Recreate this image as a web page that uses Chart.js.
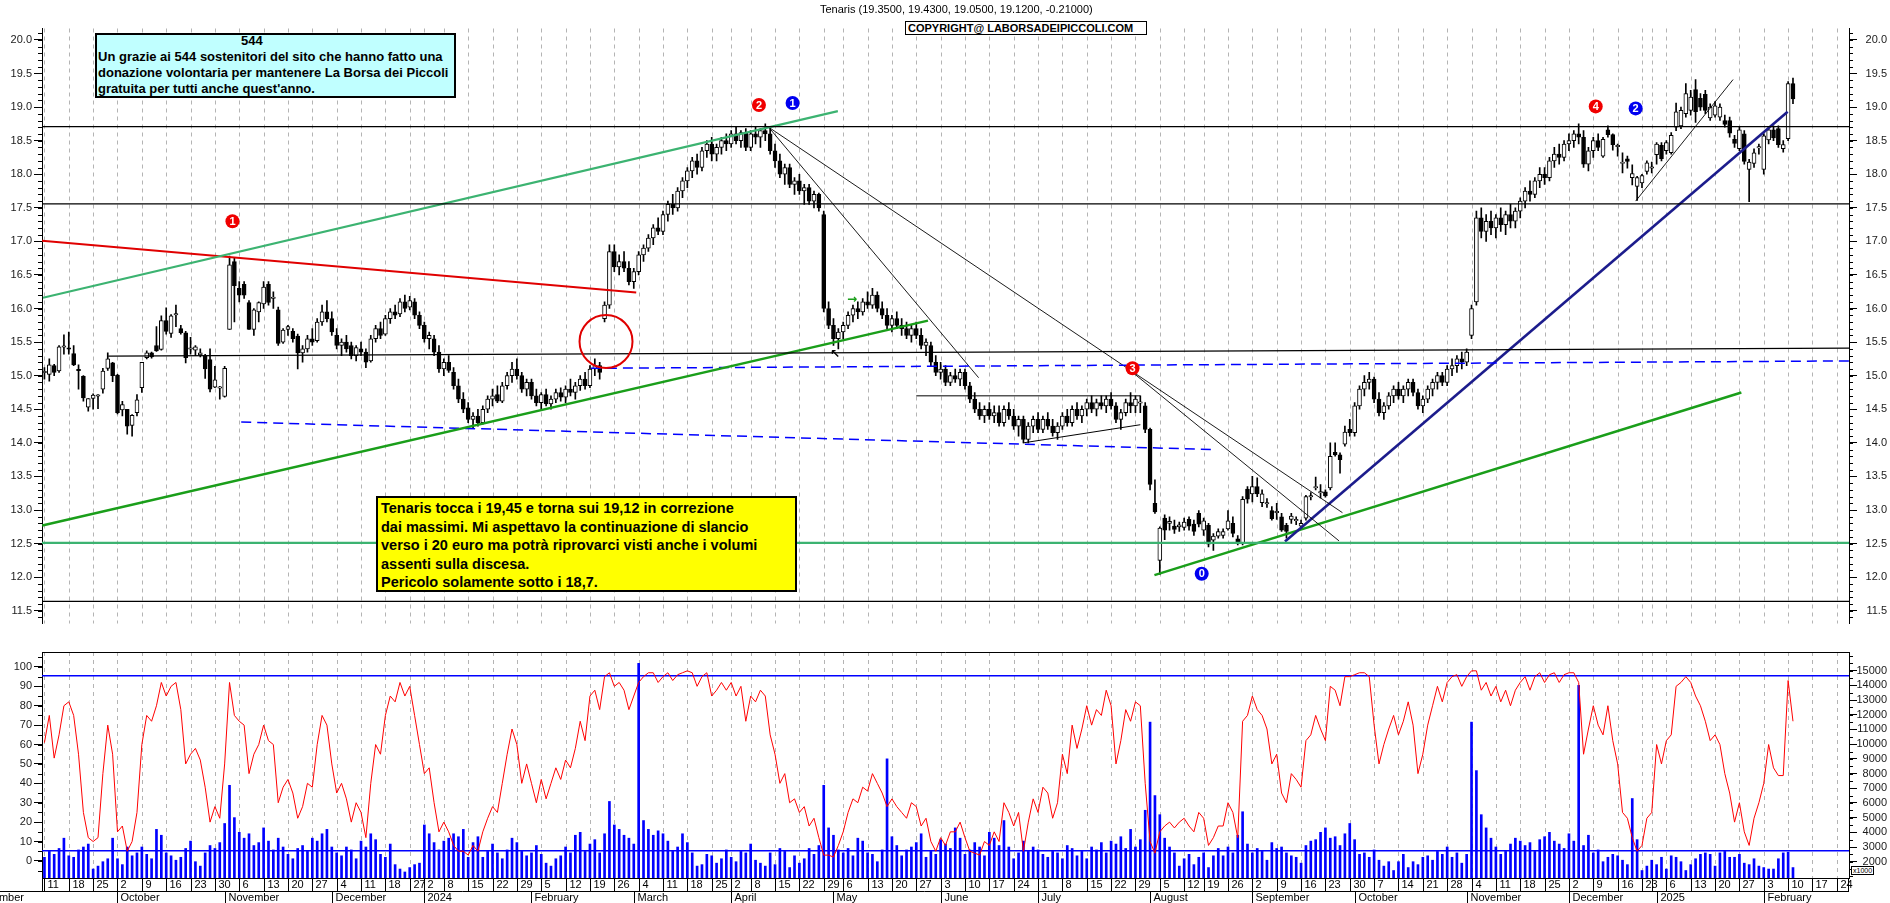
<!DOCTYPE html>
<html>
<head>
<meta charset="utf-8">
<script src="https://cdn.jsdelivr.net/npm/chart.js@4.4.1/dist/chart.umd.min.js"></script>
<style>
  html, body { margin: 0; padding: 0; background: #fff; }
  #wrap { position: relative; width: 1890px; height: 903px; overflow: hidden; background: #fff;
          font-family: "Liberation Sans", Arial, sans-serif; color: #000; }
  #cMain { position: absolute; left: 0; top: 0; width: 1890px; height: 652px; }
  #cLow { position: absolute; left: 0; top: 652px; width: 1890px; height: 251px; }
  #title { position: absolute; left: 820px; top: 3px; font-size: 11px; line-height: 12px; white-space: nowrap; }
  #copy { position: absolute; left: 905px; top: 21px; width: 242px; height: 14px; box-sizing: border-box;
          border: 1px solid #000; background: #fff; font-size: 11px; font-weight: bold; line-height: 12px;
          padding-left: 2px; white-space: nowrap; }
  #thanks { position: absolute; left: 95px; top: 33px; width: 361px; height: 65px; box-sizing: border-box;
            border: 2px solid #000; background: #c0ffff; font-size: 13px; font-weight: bold; line-height: 16px;
            white-space: nowrap; }
  #thanks div { position: relative; top: -2px; padding-left: 1px; }
  #note { position: absolute; left: 376px; top: 496px; width: 421px; height: 96px; box-sizing: border-box;
          border: 2px solid #000; background: #ffff00; font-size: 14.5px; font-weight: bold; line-height: 18.5px;
          padding: 1px 0 0 3px; white-space: nowrap; }
  #unit { position: absolute; left: 1851px; top: 866px; font-size: 7px; line-height: 7px; border: 1px solid #000;
          padding: 0 1px; background: #fff; }
</style>
</head>
<body>
<div id="wrap">
  <canvas id="cMain" width="1890" height="652"></canvas>
  <canvas id="cLow" width="1890" height="251"></canvas>
  <div id="title">Tenaris (19.3500, 19.4300, 19.0500, 19.1200, -0.21000)</div>
  <div id="copy">COPYRIGHT@ LABORSADEIPICCOLI.COM</div>
  <div id="thanks"><div>
    <span style="padding-left:143px">544</span><br>
    Un grazie ai 544 sostenitori del sito che hanno fatto una<br>
    donazione volontaria per mantenere La Borsa dei Piccoli<br>
    gratuita per tutti anche quest'anno.
  </div></div>
  <div id="note">
    Tenaris tocca i 19,45 e torna sui 19,12 in correzione<br>
    dai massimi. Mi aspettavo la continuazione di slancio<br>
    verso i 20 euro ma potrà riprovarci visti anche i volumi<br>
    assenti sulla discesa.<br>
    Pericolo solamente sotto i 18,7.
  </div>
  <div id="unit">x1000</div>
</div>
<script>
// trading calendar: Sep 11 2023 .. Feb 26 2025 (Borsa Italiana closing days removed)
const startDate = [2023, 8, 11];
const slotCount = 371;
const holidays = ['2023-12-25', '2023-12-26', '2024-01-01', '2024-03-29', '2024-04-01', '2024-05-01',
  '2024-08-15', '2024-12-24', '2024-12-25', '2024-12-26', '2024-12-31', '2025-01-01'];
const monthNames = ['January', 'February', 'March', 'April', 'May', 'June', 'July', 'August',
  'September', 'October', 'November', 'December'];

// axis tick values
const priceTicks = [11.5, 12, 12.5, 13, 13.5, 14, 14.5, 15, 15.5, 16, 16.5, 17, 17.5, 18, 18.5, 19, 19.5, 20];
const oscTicks = [0, 10, 20, 30, 40, 50, 60, 70, 80, 90, 100];
const volTicks = [2000, 3000, 4000, 5000, 6000, 7000, 8000, 9000, 10000, 11000, 12000, 13000, 14000, 15000];

// daily candles
const opens = [
  15.05,15.02,15.15,15.07,15.43,15.41,15.33,15.09,14.99,14.53, 14.66,14.70,14.80,15.11,15.19,15.01,14.49,14.50,14.26,14.45,
  14.82,15.27,15.34,15.45,15.39,15.82,15.63,15.91,15.70,15.64, 15.40,15.38,15.31,15.30,15.24,14.83,14.82,14.69,15.69,16.70,
  16.30,16.36,16.09,15.69,15.95,16.07,16.36,16.16,15.98,15.50, 15.69,15.66,15.59,15.34,15.40,15.55,15.52,15.80,15.95,15.85,
  15.60,15.45,15.50,15.45,15.30,15.40,15.35,15.22,15.55,15.70, 15.62,15.85,15.95,15.92,16.10,16.02,16.10,15.90,15.75,15.55,
  15.55,15.35,15.10,15.20,15.05,14.85,14.65,14.52,14.35,14.40, 14.30,14.50,14.65,14.72,14.62,14.85,15.00,15.10,15.00,14.80,
  14.90,14.70,14.60,14.72,14.58,14.65,14.75,14.68,14.80,14.75, 14.85,14.95,14.85,15.10,15.15,15.85,16.05,16.85,16.62,16.70,
  16.60,16.40,16.55,16.80,16.90,17.05,17.20,17.15,17.40,17.55, 17.50,17.75,17.90,18.05,18.20,18.10,18.35,18.45,18.30,18.40,
  18.50,18.45,18.60,18.50,18.62,18.40,18.60,18.55,18.65,18.60, 18.35,18.20,18.00,18.10,17.85,17.90,17.75,17.80,17.60,17.70,
  17.40,16.00,15.75,15.55,15.65,15.75,15.90,16.00,15.95,16.10, 16.05,16.20,16.00,15.90,15.75,15.85,15.75,15.70,15.60,15.70,
  15.60,15.45,15.45,15.20,15.05,15.10,14.90,15.00,14.95,15.05, 14.85,14.65,14.50,14.40,14.50,14.40,14.45,14.30,14.50,14.40,
  14.25,14.35,14.05,14.25,14.35,14.20,14.35,14.25,14.15,14.25, 14.40,14.30,14.50,14.40,14.50,14.60,14.50,14.60,14.55,14.65,
  14.55,14.35,14.45,14.60,14.55,14.60,14.55,14.20,13.10,12.25, 12.88,12.80,12.76,12.75,12.74,12.86,12.79,12.95,12.70,12.77,
  12.55,12.61,12.62,12.72,12.80,12.57,12.50,13.31,13.24,13.35, 13.11,13.10,12.99,12.97,12.90,12.77,12.86,12.85,12.76,12.88,
  13.20,13.33,13.26,13.27,13.33,13.86,13.82,13.98,14.20,14.15, 14.55,14.80,14.90,14.95,14.65,14.45,14.55,14.70,14.80,14.70,
  14.80,14.90,14.75,14.55,14.65,14.80,14.90,15.00,14.90,15.10, 15.15,15.25,15.20,15.60,16.10,17.35,17.15,17.30,17.20,17.35,
  17.25,17.40,17.30,17.45,17.60,17.75,17.70,17.90,18.00,17.95, 18.20,18.30,18.25,18.45,18.50,18.60,18.55,18.15,18.35,18.50,
  18.27,18.66,18.59,18.42,18.17,18.23,17.95,17.82,17.87,18.04, 18.10,18.29,18.43,18.35,18.32,18.70,18.72,18.90,18.95,19.26,
  19.13,19.19,18.84,18.88,18.85,18.80,18.80,18.52,18.38,18.60, 18.07,18.16,18.40,18.07,18.51,18.66,18.68,18.38,18.53,19.35
];
const highs = [
  15.12,15.25,15.17,15.45,15.61,15.65,15.45,15.16,15.00,14.66, 14.73,14.72,15.11,15.34,15.20,15.02,14.62,14.50,14.42,14.72,
  15.20,15.37,15.35,15.73,15.89,16.01,15.91,16.05,15.75,15.66, 15.57,15.45,15.40,15.32,15.40,15.14,14.84,15.14,16.78,16.75,
  16.40,16.40,16.12,16.00,16.10,16.40,16.40,16.25,16.02,15.70, 15.75,15.70,15.62,15.45,15.60,15.70,15.85,16.05,16.12,15.95,
  15.70,15.55,15.60,15.50,15.45,15.50,15.40,15.60,15.75,15.80, 15.90,16.00,16.05,16.15,16.20,16.18,16.15,15.95,15.80,15.65,
  15.60,15.45,15.25,15.30,15.12,14.95,14.75,14.60,14.45,14.50, 14.55,14.70,14.80,14.85,14.90,15.05,15.20,15.25,15.05,14.95,
  14.95,14.80,14.75,14.80,14.70,14.80,14.82,14.85,14.95,14.90, 15.00,15.05,15.15,15.25,15.20,16.10,16.95,16.95,16.80,16.85,
  16.70,16.60,16.85,16.95,17.10,17.25,17.35,17.45,17.60,17.70, 17.80,17.95,18.10,18.25,18.30,18.40,18.50,18.55,18.45,18.55,
  18.60,18.65,18.70,18.65,18.68,18.65,18.70,18.68,18.75,18.70, 18.45,18.30,18.15,18.15,17.95,18.00,17.85,17.85,17.75,17.72,
  17.45,16.10,15.85,15.70,15.80,15.95,16.05,16.10,16.15,16.25, 16.30,16.25,16.10,16.00,15.90,15.95,15.85,15.80,15.75,15.80,
  15.70,15.55,15.50,15.30,15.20,15.15,15.05,15.10,15.10,15.10, 14.90,14.75,14.60,14.55,14.60,14.55,14.55,14.55,14.60,14.50,
  14.40,14.40,14.30,14.40,14.45,14.40,14.45,14.35,14.30,14.45, 14.50,14.55,14.60,14.55,14.65,14.70,14.65,14.70,14.70,14.75,
  14.60,14.50,14.65,14.75,14.70,14.70,14.60,14.22,13.45,12.75, 12.93,12.90,12.85,12.82,12.88,12.90,12.85,12.99,12.88,12.80,
  12.65,12.72,12.72,12.99,12.90,12.62,13.20,13.35,13.50,13.48, 13.30,13.17,13.05,13.10,12.95,12.80,12.95,12.90,12.85,13.22,
  13.26,13.49,13.38,13.30,14.00,14.00,13.85,14.25,14.35,14.60, 14.85,15.00,15.05,14.98,14.75,14.60,14.75,14.85,14.90,14.85,
  14.95,14.95,14.80,14.70,14.85,14.95,15.05,15.05,15.15,15.25, 15.30,15.35,15.40,16.05,17.45,17.50,17.40,17.45,17.40,17.50,
  17.45,17.55,17.50,17.65,17.80,17.90,17.95,18.10,18.10,18.25, 18.40,18.45,18.50,18.60,18.65,18.75,18.65,18.40,18.55,18.60,
  18.55,18.72,18.60,18.45,18.32,18.27,18.14,17.97,18.00,18.20, 18.18,18.47,18.47,18.50,18.62,19.06,19.00,19.35,19.25,19.41,
  19.20,19.25,19.05,19.08,19.05,18.88,18.85,18.58,18.70,18.65, 18.22,18.38,18.45,18.60,18.70,18.72,18.72,18.50,19.38,19.43
];
const lows = [
  14.95,14.92,15.00,15.05,15.32,15.32,15.15,14.80,14.62,14.47, 14.50,14.51,14.74,15.08,14.91,14.43,14.40,14.13,14.10,14.40,
  14.75,15.25,15.26,15.36,15.38,15.62,15.57,15.73,15.62,15.19, 15.32,15.30,15.28,14.96,14.76,14.82,14.65,14.68,15.69,15.80,
  16.10,16.15,15.69,15.60,15.80,16.00,16.05,16.00,15.45,15.48, 15.60,15.50,15.10,15.20,15.35,15.45,15.50,15.75,15.80,15.60,
  15.40,15.30,15.35,15.25,15.22,15.30,15.12,15.20,15.50,15.55, 15.60,15.78,15.85,15.88,15.95,15.98,15.85,15.70,15.50,15.40,
  15.30,15.05,15.00,15.05,14.80,14.60,14.45,14.30,14.22,14.25, 14.28,14.45,14.55,14.60,14.60,14.80,14.90,14.95,14.75,14.70,
  14.65,14.55,14.50,14.55,14.50,14.60,14.62,14.60,14.70,14.65, 14.78,14.80,14.82,15.00,14.95,15.80,16.00,16.55,16.50,16.55,
  16.35,16.30,16.50,16.70,16.85,16.95,17.10,17.10,17.30,17.40, 17.45,17.65,17.80,17.95,18.00,18.05,18.25,18.20,18.20,18.30,
  18.35,18.40,18.45,18.40,18.35,18.35,18.45,18.40,18.50,18.30, 18.10,17.95,17.85,17.80,17.70,17.70,17.55,17.55,17.50,17.45,
  15.95,15.70,15.45,15.40,15.55,15.70,15.80,15.85,15.90,16.00, 16.00,15.95,15.85,15.70,15.65,15.70,15.60,15.55,15.50,15.55,
  15.40,15.30,15.15,15.00,14.95,14.85,14.85,14.90,14.85,14.80, 14.60,14.45,14.35,14.30,14.35,14.30,14.25,14.25,14.35,14.20,
  14.10,14.00,14.00,14.15,14.15,14.15,14.20,14.10,14.05,14.20, 14.25,14.25,14.35,14.30,14.40,14.45,14.40,14.50,14.45,14.50,
  14.30,14.20,14.40,14.45,14.45,14.45,14.15,13.30,12.95,12.04, 12.56,12.70,12.65,12.68,12.70,12.70,12.62,12.75,12.62,12.45,
  12.40,12.58,12.58,12.70,12.60,12.48,12.48,13.10,13.12,13.20, 13.05,13.04,12.85,12.86,12.68,12.58,12.80,12.78,12.72,12.85,
  13.15,13.30,13.18,13.19,13.30,13.80,13.55,13.95,14.10,14.10, 14.50,14.70,14.80,14.60,14.40,14.35,14.50,14.60,14.65,14.60,
  14.70,14.70,14.50,14.45,14.60,14.70,14.80,14.85,14.85,15.00, 15.05,15.10,15.15,15.55,16.05,17.05,17.00,17.10,17.05,17.15,
  17.10,17.20,17.20,17.35,17.50,17.60,17.65,17.80,17.85,17.90, 18.10,18.15,18.20,18.35,18.40,18.45,18.10,18.05,18.25,18.35,
  18.25,18.55,18.36,18.27,18.02,18.09,17.84,17.61,17.80,18.00, 18.02,18.15,18.20,18.30,18.30,18.65,18.68,18.85,18.88,18.77,
  18.95,18.90,18.80,18.85,18.80,18.70,18.55,18.40,18.35,18.15, 17.59,18.10,18.30,18.00,18.45,18.50,18.40,18.33,18.50,19.05
];
const closes = [
  15.06,15.16,15.05,15.43,15.44,15.40,15.16,15.08,14.67,14.66, 14.71,14.71,15.07,15.25,15.00,14.45,14.57,14.25,14.41,14.64,
  15.20,15.34,15.28,15.37,15.82,15.66,15.89,15.92,15.64,15.27, 15.41,15.43,15.34,15.10,14.80,14.94,14.83,15.11,16.65,16.34,
  16.20,16.20,15.69,15.98,16.09,16.32,16.09,16.16,15.48,15.68, 15.73,15.55,15.34,15.40,15.55,15.50,15.80,15.95,15.85,15.65,
  15.45,15.50,15.40,15.30,15.42,15.35,15.20,15.55,15.70,15.60, 15.85,15.95,15.90,16.10,16.00,16.12,15.90,15.75,15.55,15.60,
  15.35,15.10,15.20,15.08,14.85,14.65,14.50,14.35,14.40,14.30, 14.50,14.65,14.70,14.62,14.85,15.00,15.10,15.00,14.80,14.90,
  14.70,14.60,14.72,14.58,14.65,14.75,14.68,14.80,14.75,14.85, 14.95,14.85,15.10,15.15,15.05,16.05,16.85,16.62,16.70,16.60,
  16.40,16.55,16.80,16.90,17.05,17.20,17.15,17.40,17.55,17.50, 17.75,17.90,18.05,18.20,18.10,18.35,18.45,18.30,18.40,18.50,
  18.45,18.60,18.50,18.62,18.40,18.60,18.55,18.65,18.60,18.35, 18.20,18.00,18.10,17.85,17.90,17.75,17.80,17.60,17.70,17.50,
  16.00,15.75,15.55,15.65,15.75,15.90,16.00,15.95,16.10,16.05, 16.20,16.00,15.90,15.75,15.85,15.75,15.70,15.60,15.70,15.60,
  15.45,15.50,15.20,15.05,15.10,14.90,15.00,14.95,15.05,14.85, 14.65,14.50,14.40,14.50,14.40,14.45,14.30,14.50,14.40,14.25,
  14.35,14.05,14.25,14.35,14.20,14.35,14.25,14.15,14.25,14.40, 14.30,14.50,14.40,14.50,14.60,14.50,14.60,14.55,14.65,14.55,
  14.35,14.45,14.60,14.55,14.65,14.60,14.20,13.38,12.97,12.73, 12.70,12.83,12.71,12.78,12.82,12.76,12.68,12.79,12.84,12.49,
  12.61,12.68,12.68,12.84,12.65,12.50,13.16,13.16,13.35,13.24, 13.24,13.10,12.87,12.97,12.70,12.68,12.91,12.85,12.80,13.20,
  13.21,13.35,13.27,13.21,13.80,13.82,13.75,14.16,14.15,14.55, 14.80,14.90,14.95,14.65,14.45,14.55,14.70,14.80,14.70,14.80,
  14.90,14.75,14.55,14.65,14.80,14.90,15.00,14.90,15.10,15.15, 15.25,15.20,15.35,16.00,17.35,17.15,17.30,17.20,17.35,17.25,
  17.40,17.30,17.45,17.60,17.75,17.70,17.90,18.00,17.95,18.20, 18.30,18.25,18.45,18.50,18.60,18.55,18.15,18.35,18.50,18.40,
  18.52,18.59,18.44,18.42,18.17,18.19,18.01,17.95,17.98,18.17, 18.10,18.45,18.23,18.47,18.58,18.93,18.95,19.20,19.15,18.93,
  19.00,18.95,19.00,19.02,19.00,18.74,18.61,18.46,18.66,18.19, 18.18,18.32,18.40,18.57,18.66,18.54,18.44,18.44,19.35,19.12
];

// oscillator (0-100, left axis of lower panel)
const stochValues = [
  61,75,53,65,80,82,75,55,25,12,10,12,45,70,55,15,18,5,10,25,
  60,75,72,80,92,85,90,92,78,50,55,58,52,38,20,28,22,50,92,75,
  72,70,45,55,60,70,62,60,30,38,42,35,22,28,40,38,60,75,70,50,
  35,40,32,20,30,25,12,40,60,55,75,85,82,92,85,90,75,60,45,48,
  30,15,20,15,8,5,5,3,8,5,15,22,28,25,40,55,68,60,40,50,
  40,30,42,32,40,48,42,52,48,58,72,62,85,88,78,95,97,90,92,88,
  78,85,92,95,97,97,92,95,97,93,96,97,98,97,90,95,97,85,88,92,
  88,92,85,90,72,85,82,88,85,65,55,40,45,30,32,25,28,18,22,12,
  3,3,2,8,15,25,32,30,38,36,45,40,35,28,32,28,25,22,30,28,
  18,22,10,5,12,8,15,15,20,12,5,4,3,10,8,15,10,30,25,18,
  25,5,20,32,25,38,35,22,30,55,45,70,58,68,80,70,78,75,88,80,
  50,62,78,72,82,80,40,10,4,15,18,20,17,20,22,18,15,25,22,8,
  12,18,18,30,25,12,72,75,85,78,75,68,50,55,35,30,45,42,38,62,
  65,75,68,62,90,88,80,95,95,96,97,97,95,70,50,60,68,75,65,72,
  82,70,45,55,70,80,90,82,92,95,96,90,95,98,98,88,92,85,90,82,
  88,80,88,92,95,88,95,97,92,96,97,92,96,97,97,92,55,68,80,70,
  65,80,62,50,25,22,12,5,8,22,25,60,50,62,65,90,92,95,92,85,
  80,72,62,65,60,45,35,20,30,15,8,22,30,40,60,48,44,44,93,72
];

// volume (thousands of shares, right axis of lower panel)
const volumeValues = [
  2300,2700,2500,2900,3600,2400,2300,2800,3000,3200,1500,1700,2000,2200,3600,2200,1800,3000,2400,2600,
  3000,2500,2200,4200,3800,2600,2400,2100,2300,2900,3400,2000,1700,2600,3100,2900,3300,4600,7200,5000,
  4000,3600,3900,3100,3300,4300,3400,2800,3600,3000,2500,2200,2900,3100,2700,3600,3400,3900,4200,3000,
  2600,2400,3000,2800,2200,3400,3000,3900,3500,2500,2300,3200,1800,1500,1300,1600,1800,1900,4500,3900,
  3300,2800,3400,3600,3900,3700,4200,2300,3300,3700,2300,2700,3200,2600,2200,2800,3600,3300,2700,2400,
  2600,3100,2500,1900,1700,2200,2400,3000,2600,3800,4000,2700,3200,3500,2600,3900,6100,4500,4200,3800,
  3600,3200,15500,4800,4200,3800,4100,3900,3400,2700,3000,3900,3300,2600,1700,1800,2500,2400,1900,2200,
  2800,2300,2000,2700,2600,3200,2100,1900,1700,2600,1800,2900,2700,1600,2400,1900,2200,2900,2500,3100,
  7200,4300,3800,2800,2600,2900,2400,3600,3400,2600,2500,2000,2800,9000,3700,3100,2400,2800,3000,3300,
  3900,2300,2700,2500,3500,3200,2900,4300,3600,2500,2800,3300,3000,2400,4000,3600,3100,4800,3000,2200,
  2600,3400,2700,3000,2800,2500,2300,2700,2600,2200,3100,2900,2400,2700,2200,3000,2800,3300,2600,3400,
  3200,3700,2900,4200,3000,3500,5500,11500,6500,5200,3600,3000,2600,1700,2200,2500,1800,2300,2600,1600,
  2400,2900,2400,3000,2600,3800,5400,3200,2600,2900,2700,2100,3300,2900,3000,2600,2400,2300,1900,3100,
  3400,3500,4000,4300,3600,3700,3100,3900,4600,3500,2500,2600,2300,2800,2100,1700,2000,1400,2000,2500,
  1600,2000,1800,2300,2400,2100,2700,2500,3000,2300,2600,1900,2500,11500,8200,5200,4300,3600,3000,2500,
  2700,3200,3600,3400,3100,3300,2700,3500,3700,4000,3400,3200,2900,3900,3400,14000,3100,3800,2600,2800,
  2000,2300,2500,2400,2100,1800,6300,3500,1400,1700,2100,1800,2300,1500,2400,2300,2000,1400,1800,2200,
  2500,2600,2500,1700,2600,2700,2300,2300,2500,1900,1800,2200,1700,1600,1500,1500,2200,2600,2650,1600
];

// drawn levels and trend lines: [day index, price]
const level187 = [[-0.5, 18.71], [370.5, 18.71]];
const level1756 = [[-0.5, 17.56], [370.5, 17.56]];
const level153 = [[13.1, 15.29], [370.5, 15.41]];
const level125 = [[-0.5, 12.51], [370.5, 12.51]];
const level1164 = [[-0.5, 11.64], [370.5, 11.64]];
const channelTop = [[-0.3, 16.16], [162.9, 18.94]];
const redTrend = [[-0.5, 17.01], [121.5, 16.24]];
const greenSupport = [[-0.45, 12.77], [181.4, 15.82]];
const blueDashHigh = [[112.2, 15.11], [370.5, 15.22]];
const blueDashLow = [[40.4, 14.31], [239.9, 13.90]];
const peakFall = [[148.7, 18.70], [266.5, 12.96]];
const steepFall = [[148.7, 18.70], [191.8, 14.97]];
const mark3Fall = [[223.4, 15.05], [265.8, 12.54]];
const juneTop = [[179, 14.70], [225, 14.70]];
const julyRise = [[201, 14.00], [225, 14.27]];
const navyTrend = [[254.7, 12.53], [357.9, 18.93]];
const augGreen = [[227.9, 12.03], [348.4, 14.75]];
const decRise = [[326.7, 17.60], [346.7, 19.41]];
const circleMark = [[115.3, 15.51]];
const redMarkers = [[38.6, 17.30, '1'], [146.7, 19.03, '2'], [223.4, 15.11, '3'], [318.5, 19.01, '4']];
const blueMarkers = [[153.6, 19.06, '1'], [237.6, 12.05, '0'], [326.7, 18.98, '2']];
const arrowNotes = [[165.8, 16.13, '\u2192', '#1a9e1a'], [162.3, 15.31, '\u2196', '#000']];

// oscillator reference levels
const oscHigh = 95.5;
const oscLow = 5.3;

// ---- calendar ----
const tradingDays = [];
(function () {
  const d = new Date(startDate[0], startDate[1], startDate[2]);
  while (tradingDays.length < slotCount) {
    const key = d.getFullYear() + '-' + String(d.getMonth() + 1).padStart(2, '0') + '-' + String(d.getDate()).padStart(2, '0');
    const wd = d.getDay();
    if (wd !== 0 && wd !== 6 && !holidays.includes(key)) tradingDays.push(new Date(d));
    d.setDate(d.getDate() + 1);
  }
})();
const weekStarts = [];
const monthStarts = [];
tradingDays.forEach((d, i) => {
  const p = tradingDays[i - 1];
  if (i === 0 || d.getDay() <= p.getDay() || (d - p) > 6 * 864e5) weekStarts.push(i);
  if (i > 0 && d.getMonth() !== p.getMonth()) monthStarts.push(i);
});

const FONT = '"Liberation Sans", Arial, sans-serif';
const X_MIN = -0.5, X_MAX = slotCount - 0.5;

const pts = arr => arr.map(p => ({ x: p[0], y: p[1] }));
function seg(arr, color, width, dash, yAxisID) {
  return { type: 'line', data: pts(arr), borderColor: color, borderWidth: width, borderDash: dash || [],
    pointRadius: 0, tension: 0, order: 2, yAxisID: yAxisID || 'y' };
}
function yAxis(pos, min, max, width, tickValues, cb) {
  return {
    type: 'linear', position: pos, min: min, max: max,
    afterFit: s => { s.width = width; s.paddingTop = 0; s.paddingBottom = 0; },
    afterBuildTicks: s => { s.ticks = tickValues.map(v => ({ value: v })); },
    ticks: { autoSkip: false, padding: 2, crossAlign: pos === 'right' ? 'far' : 'near',
      color: '#1a1a1a', font: { family: FONT, size: 11 }, callback: cb },
    grid: { drawOnChartArea: false, drawTicks: true, tickLength: 8, color: '#000' },
    border: { display: true, color: '#000', width: 1 }
  };
}

// ---- plugins ----
const weekGrid = {
  id: 'weekGrid',
  beforeDatasetsDraw(chart) {
    const { ctx, chartArea: a, scales: { x } } = chart;
    ctx.save();
    ctx.strokeStyle = '#b4b4b4'; ctx.lineWidth = 1; ctx.setLineDash([4, 4]);
    weekStarts.forEach(i => {
      const px = Math.round(x.getPixelForValue(i)) + 0.5;
      ctx.beginPath(); ctx.moveTo(px, a.top); ctx.lineTo(px, a.bottom); ctx.stroke();
    });
    ctx.restore();
  }
};
function minorTicks(chart, id, step, len) {
  const s = chart.scales[id], ctx = chart.ctx;
  ctx.save(); ctx.strokeStyle = '#000'; ctx.lineWidth = 1;
  const n0 = Math.ceil(s.min / step), n1 = Math.floor(s.max / step);
  for (let n = n0; n <= n1; n++) {
    const py = Math.round(s.getPixelForValue(n * step)) + 0.5;
    ctx.beginPath();
    if (s.position === 'left') { ctx.moveTo(s.right - len, py); ctx.lineTo(s.right, py); }
    else { ctx.moveTo(s.left, py); ctx.lineTo(s.left + len, py); }
    ctx.stroke();
  }
  ctx.restore();
}
const mainDecor = {
  id: 'mainDecor',
  afterDatasetsDraw(chart) {
    const { ctx, scales: { x, y } } = chart;
    ctx.save();
    ctx.textAlign = 'center'; ctx.textBaseline = 'middle';
    ctx.font = 'bold 11px ' + FONT; ctx.fillStyle = '#fff';
    redMarkers.concat(blueMarkers).forEach(m => {
      ctx.fillText(m[2], x.getPixelForValue(m[0]), y.getPixelForValue(m[1]) + 0.5);
    });
    ctx.font = 'bold 12px "DejaVu Sans", sans-serif';
    arrowNotes.forEach(a => {
      ctx.fillStyle = a[3];
      ctx.fillText(a[2], x.getPixelForValue(a[0]), y.getPixelForValue(a[1]));
    });
    ctx.restore();
  },
  afterDraw(chart) {
    minorTicks(chart, 'y', 0.1, 4);
    minorTicks(chart, 'yL', 0.1, 4);
  }
};
const lowDecor = {
  id: 'lowDecor',
  afterDraw(chart) {
    const { ctx, chartArea: a, scales: { x } } = chart;
    minorTicks(chart, 'yOsc', 5, 4);
    minorTicks(chart, 'yVol', 500, 4);
    const y0 = a.bottom, y1 = a.bottom + 13, y2 = a.bottom + 25;
    ctx.save();
    ctx.strokeStyle = '#000'; ctx.lineWidth = 1;
    ctx.beginPath();
    ctx.moveTo(a.left, a.top + 0.5); ctx.lineTo(a.right, a.top + 0.5);
    ctx.moveTo(a.left, y0 + 0.5); ctx.lineTo(a.right, y0 + 0.5);
    ctx.moveTo(0, y1 + 0.5); ctx.lineTo(a.right, y1 + 0.5);
    ctx.moveTo(a.left + 0.5, y0); ctx.lineTo(a.left + 0.5, y1);
    ctx.moveTo(a.right - 0.5, y0); ctx.lineTo(a.right - 0.5, y1);
    ctx.stroke();
    ctx.font = '11px ' + FONT; ctx.fillStyle = '#000'; ctx.textBaseline = 'middle'; ctx.textAlign = 'left';
    let last = -100;
    weekStarts.forEach(i => {
      const px = Math.round(x.getPixelForValue(i)) + 0.5;
      ctx.beginPath(); ctx.moveTo(px, y0); ctx.lineTo(px, y1); ctx.stroke();
      if (px - last >= 13) { ctx.fillText(String(tradingDays[i].getDate()), px + 3, y0 + 7); last = px; }
    });
    ctx.textAlign = 'right';
    ctx.fillText(monthNames[tradingDays[0].getMonth()], 24, y1 + 7);
    ctx.textAlign = 'left';
    monthStarts.forEach(i => {
      const px = Math.round(x.getPixelForValue(i)) + 0.5;
      ctx.beginPath(); ctx.moveTo(px, y1); ctx.lineTo(px, y2); ctx.stroke();
      const d = tradingDays[i];
      ctx.fillText(d.getMonth() === 0 ? String(d.getFullYear()) : monthNames[d.getMonth()], px + 3, y1 + 7);
    });
    ctx.restore();
  }
};

// ---- main price panel ----
const wickData = highs.map((h, i) => ({ x: i, y: [lows[i], h] }));
const bodyData = opens.map((o, i) => {
  let lo = Math.min(o, closes[i]), hi = Math.max(o, closes[i]);
  if (hi - lo < 0.02) { const m = (hi + lo) / 2; lo = m - 0.01; hi = m + 0.01; }
  return { x: i, y: [lo, hi] };
});
const bodyColors = opens.map((o, i) => closes[i] >= o ? '#ffffff' : '#000000');
const priceLabel = v => v.toFixed(1);

new Chart(document.getElementById('cMain'), {
  type: 'bar',
  data: {
    datasets: [
      { data: wickData, backgroundColor: '#000', barThickness: 1, grouped: false, order: 6 },
      { data: bodyData, backgroundColor: bodyColors, borderColor: '#000', borderWidth: 1, borderSkipped: false,
        barThickness: 4, grouped: false, order: 5 },
      seg(level187, '#000', 1.3), seg(level1756, '#000', 1.3), seg(level153, '#000', 1.3),
      seg(level1164, '#000', 1.3), seg(level125, '#3cb371', 2.2),
      seg(channelTop, '#3cb371', 2.2), seg(redTrend, '#e00000', 2), seg(greenSupport, '#1a9e1a', 2.5),
      seg(blueDashHigh, '#0000ff', 1.5, [10, 6]), seg(blueDashLow, '#0000ff', 1.5, [10, 6]),
      seg(peakFall, '#000', 0.9), seg(steepFall, '#000', 0.9), seg(mark3Fall, '#000', 0.9),
      seg(juneTop, '#000', 1), seg(julyRise, '#000', 1),
      seg(decRise, '#000', 0.9), seg(navyTrend, '#1c1c8c', 2.6), seg(augGreen, '#1a9e1a', 2.5),
      { type: 'scatter', data: pts(circleMark), pointRadius: 26.5, pointBorderColor: '#e00000', pointBorderWidth: 2,
        pointBackgroundColor: 'rgba(0,0,0,0)', order: 1 },
      { type: 'scatter', data: pts(redMarkers), pointRadius: 7, pointBorderWidth: 0,
        pointBackgroundColor: '#f00000', order: 0 },
      { type: 'scatter', data: pts(blueMarkers), pointRadius: 7, pointBorderWidth: 0,
        pointBackgroundColor: '#0000f0', order: 0 }
    ]
  },
  options: {
    responsive: false, animation: false, devicePixelRatio: 1,
    layout: { padding: { left: 0, right: 3, top: 0, bottom: 0 } },
    plugins: { legend: { display: false }, tooltip: { enabled: false } },
    scales: {
      x: { type: 'linear', display: false, min: X_MIN, max: X_MAX, offset: false },
      y: yAxis('right', 11.31, 20.17, 38, priceTicks, priceLabel),
      yL: yAxis('left', 11.31, 20.17, 42, priceTicks, priceLabel)
    }
  },
  plugins: [weekGrid, mainDecor]
});

// ---- oscillator + volume panel ----
new Chart(document.getElementById('cLow'), {
  type: 'bar',
  data: {
    datasets: [
      { data: volumeValues.map((v, i) => ({ x: i, y: v })), yAxisID: 'yVol', backgroundColor: '#0000ff',
        barThickness: 2, grouped: false, order: 3 },
      seg([[X_MIN, oscHigh], [X_MAX, oscHigh]], '#0000ff', 1.5, null, 'yOsc'),
      seg([[X_MIN, oscLow], [X_MAX, oscLow]], '#0000ff', 1.5, null, 'yOsc'),
      { type: 'line', data: stochValues.map((v, i) => ({ x: i, y: v })), yAxisID: 'yOsc', borderColor: '#ff0000',
        borderWidth: 1, pointRadius: 0, tension: 0, order: 0 }
    ]
  },
  options: {
    responsive: false, animation: false, devicePixelRatio: 1,
    layout: { padding: { left: 0, right: 3, top: 0, bottom: 25 } },
    plugins: { legend: { display: false }, tooltip: { enabled: false } },
    scales: {
      x: { type: 'linear', display: false, min: X_MIN, max: X_MAX, offset: false },
      yOsc: yAxis('left', -8.8, 107.7, 42, oscTicks, v => String(v)),
      yVol: yAxis('right', 890, 16273, 38, volTicks, v => String(v))
    }
  },
  plugins: [weekGrid, lowDecor]
});
</script>
</body>
</html>
